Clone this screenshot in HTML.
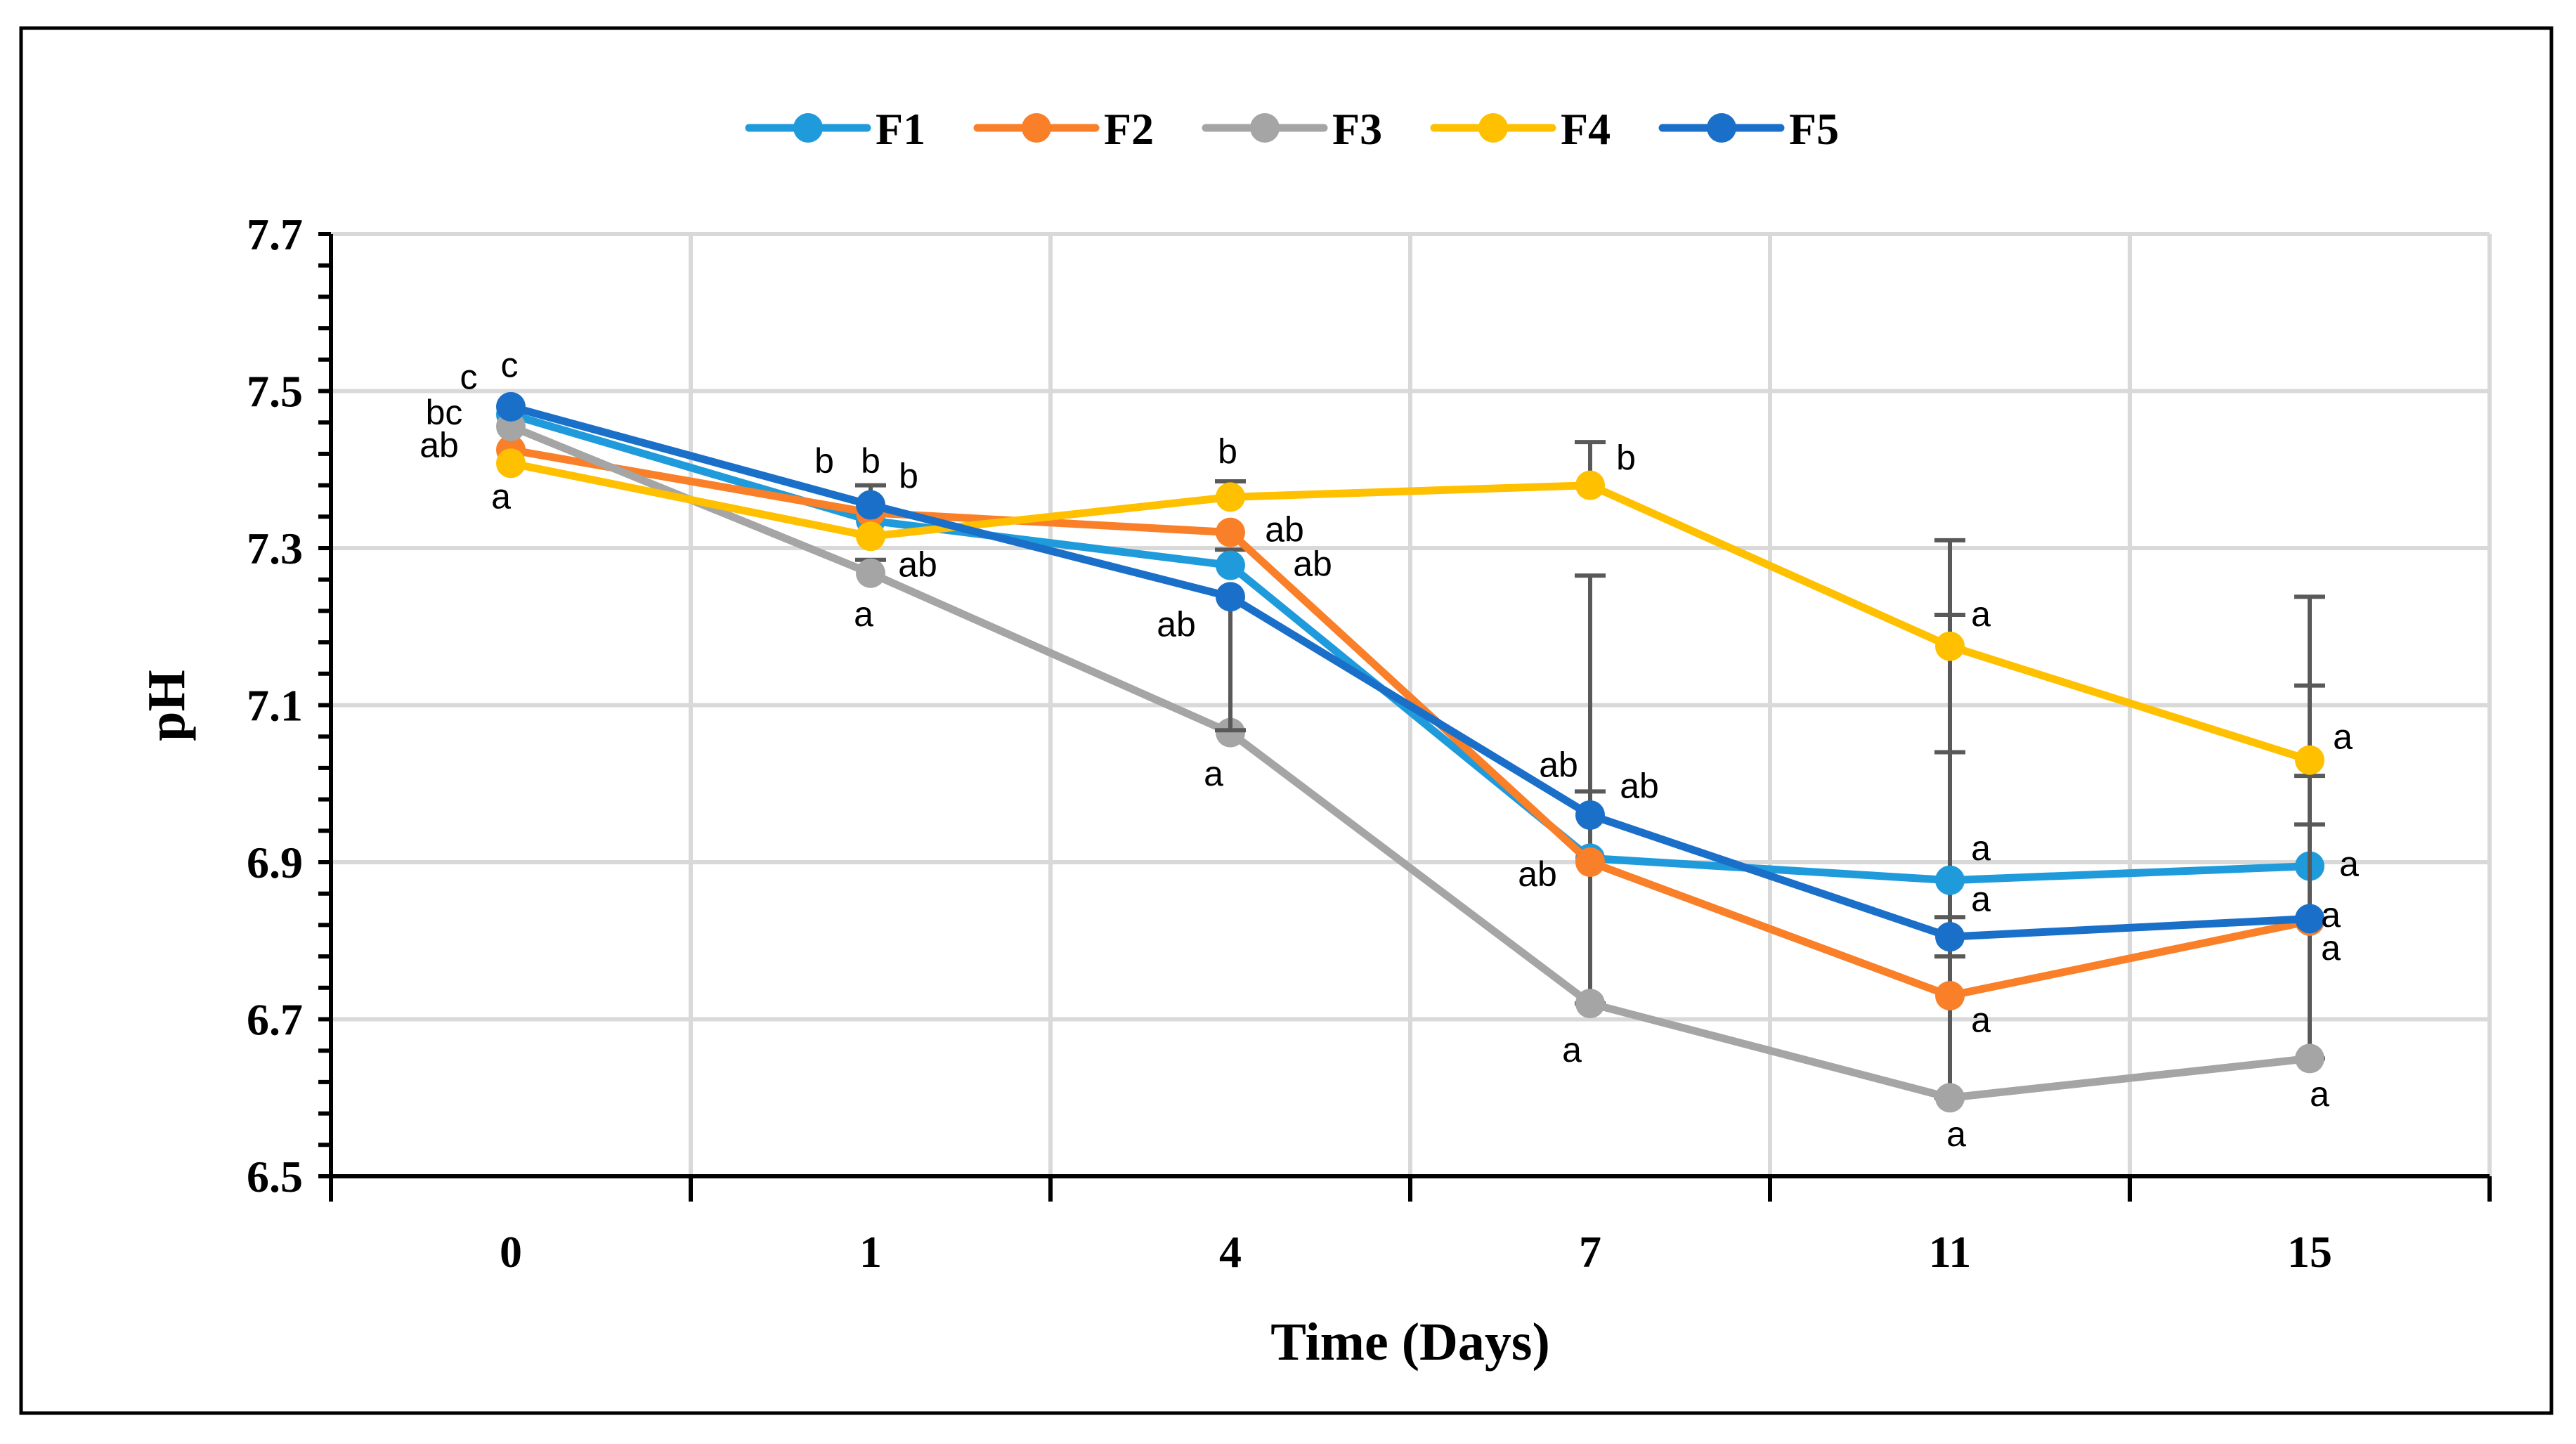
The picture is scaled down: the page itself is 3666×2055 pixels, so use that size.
<!DOCTYPE html>
<html><head><meta charset="utf-8"><style>html,body{margin:0;padding:0;background:#fff}svg{display:block}</style></head>
<body>
<svg id="chart" width="3666" height="2055" viewBox="0 0 3666 2055" xmlns="http://www.w3.org/2000/svg">
<rect x="0" y="0" width="3666" height="2055" fill="#fff"/>
<rect x="30" y="40" width="3601" height="1971" fill="none" stroke="#000" stroke-width="5"/>
<g id="grid"></g><g id="axes"></g><g id="series"></g><g id="labels"></g><g id="legend"></g>
<text x="2007" y="1935" text-anchor="middle" font-family="Liberation Serif, serif" font-weight="bold" font-size="76">Time (Days)</text>
<text transform="translate(262,1004) rotate(-90)" text-anchor="middle" font-family="Liberation Serif, serif" font-weight="bold" font-size="76">pH</text>
</svg>
<script>
const days = ["0","1","4","7","11","15"];
const seriesNames = ["F1","F2","F3","F4","F5"];
const seriesColors = ["#1f9bdc","#f97f28","#a5a5a5","#ffc000","#1a6fc9"];
const yTicks = [6.5,6.7,6.9,7.1,7.3,7.5,7.7];
const F1 = [7.47,7.335,7.278,6.905,6.877,6.895];
const F2 = [7.425,7.345,7.32,6.90,6.73,6.825];
const F3 = [7.455,7.268,7.065,6.72,6.60,6.65];
const F4 = [7.408,7.315,7.365,7.38,7.175,7.03];
const F5 = [7.48,7.355,7.238,6.96,6.805,6.828];
const F1errPlus = [0,0,0.02,0.36,0.338,0.23];
const F1errMinus = [0,0,0,0.185,0.277,0.245];
const F2errPlus = [0,0,0,0,0,0];
const F2errMinus = [0,0,0,0,0,0];
const F3errPlus = [0,0.017,0,0,0,0];
const F3errMinus = [0,0,0,0,0,0];
const F4errPlus = [0,0,0.02,0.055,0.135,0.208];
const F4errMinus = [0,0,0,0,0.135,0.02];
const F5errPlus = [0,0.025,0,0.03,0.025,0.12];
const F5errMinus = [0,0,0.17,0,0.025,0];
const labelDay = [0,0,0,0,0, 1,1,1,1,1, 2,2,2,2,2, 3,3,3,3,3, 4,4,4,4,4, 5,5,5,5,5];
const labelText = ["c","c","bc","ab","a","b","b","b","ab","a","b","ab","ab","ab","a","b","ab","ab","ab","a","a","a","a","a","a","a","a","a","a","a"];
const labelPH = [7.515,7.5,7.455,7.413,7.348,7.393,7.393,7.374,7.261,7.198,7.405,7.306,7.262,7.185,6.995,7.397,7.006,6.979,6.867,6.643,7.198,6.900,6.835,6.681,6.536,7.042,6.880,6.815,6.773,6.587];
const labelDx = [-2,-60,-95,-102,-14, -66,0,54,67,-10, -4,77,117,-77,-24, 51,-45,70,-75,-26, 44,44,44,44,9, 47,56,30,30,14];

const NS="http://www.w3.org/2000/svg";
const L=471,R=3543,T=333,B=1674;
const slot=(R-L)/days.length;
const xs=i=>L+slot*(i+0.5);
const ys=v=>B-(v-6.5)/(7.7-6.5)*(B-T);
function mk(tag,attrs,parent){const e=document.createElementNS(NS,tag);for(const k in attrs)e.setAttribute(k,attrs[k]);parent.appendChild(e);return e;}
const grid=document.getElementById('grid'),axes=document.getElementById('axes'),ser=document.getElementById('series'),lab=document.getElementById('labels'),leg=document.getElementById('legend');
yTicks.forEach(v=>{if(v>6.5){const g=mk('line',{x1:L,x2:R,y1:ys(v),y2:ys(v),stroke:'#d9d9d9','stroke-width':6},grid);}
 const t=mk('text',{x:L-40,y:ys(v)+22,'text-anchor':'end','font-family':'Liberation Serif, serif','font-weight':'bold','font-size':64},axes);t.textContent=v.toFixed(1);
 });
for(let i=1;i<=days.length;i++){const x=L+slot*i;const g=mk('line',{x1:x,x2:x,y1:T,y2:B,stroke:'#d9d9d9','stroke-width':6},grid);}
for(let v=6.5;v<=7.7001;v+=0.04){mk('line',{x1:L-18,x2:L,y1:ys(v),y2:ys(v),stroke:'#000','stroke-width':6},axes);}
for(let i=0;i<=days.length;i++){const x=L+slot*i;mk('line',{x1:x,x2:x,y1:B,y2:B+36,stroke:'#000','stroke-width':6},axes);}
const ya=mk('line',{x1:L,x2:L,y1:T,y2:B+3,stroke:'#000','stroke-width':6},axes);
const xa=mk('line',{x1:L-3,x2:R,y1:B,y2:B,stroke:'#000','stroke-width':6},axes);
days.forEach((d,i)=>{const t=mk('text',{x:xs(i),y:1803,'text-anchor':'middle','font-family':'Liberation Serif, serif','font-weight':'bold','font-size':64},axes);t.textContent=d;
 });
const data=[F1,F2,F3,F4,F5];
const ep=[F1errPlus,F2errPlus,F3errPlus,F4errPlus,F5errPlus];
const em=[F1errMinus,F2errMinus,F3errMinus,F4errMinus,F5errMinus];
data.forEach((vals,s)=>{
 const g=mk('g',{},ser);
 vals.forEach((v,i)=>{const up=v+ep[s][i],dn=v-em[s][i];
  if(up>v||dn<v){const e=mk('line',{x1:xs(i),x2:xs(i),y1:ys(up),y2:ys(dn),stroke:'#595959','stroke-width':6},g);
   
   if(up>v)mk('line',{x1:xs(i)-22,x2:xs(i)+22,y1:ys(up),y2:ys(up),stroke:'#595959','stroke-width':6},g);
   if(dn<v)mk('line',{x1:xs(i)-22,x2:xs(i)+22,y1:ys(dn),y2:ys(dn),stroke:'#595959','stroke-width':6},g);}});
 const p=mk('polyline',{points:vals.map((v,i)=>xs(i)+','+ys(v)).join(' '),fill:'none',stroke:seriesColors[s],'stroke-width':11,'stroke-linejoin':'round'},g);
 
 vals.forEach((v,i)=>{const c=mk('circle',{cx:xs(i),cy:ys(v),r:21,fill:seriesColors[s]},g);
  });
});
labelText.forEach((t,k)=>{const e=mk('text',{x:xs(labelDay[k])+labelDx[k],y:ys(labelPH[k])-3,'text-anchor':'middle','font-family':'Liberation Sans, sans-serif','font-size':50},lab);
 e.textContent=t;});
seriesNames.forEach((n,s)=>{const x0=1066+s*325;const g=mk('g',{},leg);
 mk('line',{x1:x0,x2:x0+168,y1:182,y2:182,stroke:seriesColors[s],'stroke-width':11,'stroke-linecap':'round'},g);
 mk('circle',{cx:x0+84,cy:182,r:21,fill:seriesColors[s]},g);
 const t=mk('text',{x:x0+180,y:205,'font-family':'Liberation Serif, serif','font-weight':'bold','font-size':64},g);t.textContent=n;});
</script>
</body></html>
